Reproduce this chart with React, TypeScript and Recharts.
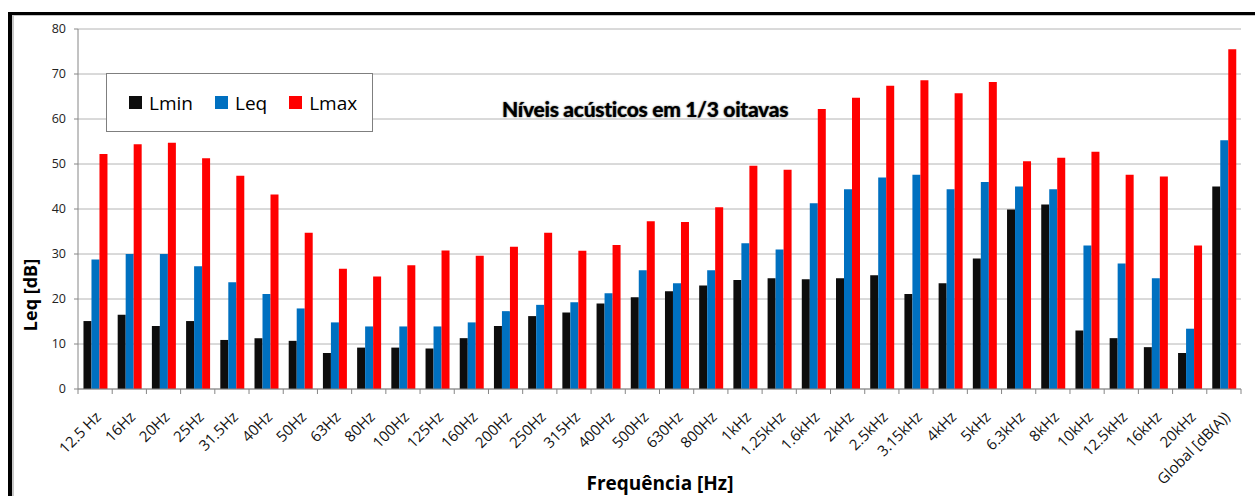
import { BarChart, Bar, XAxis, YAxis, CartesianGrid, Legend } from 'recharts';

const bands = [
  '12.5 Hz', '16Hz', '20Hz', '25Hz', '31.5Hz', '40Hz', '50Hz', '63Hz', '80Hz', '100Hz',
  '125Hz', '160Hz', '200Hz', '250Hz', '315Hz', '400Hz', '500Hz', '630Hz', '800Hz', '1kHz',
  '1.25kHz', '1.6kHz', '2kHz', '2.5kHz', '3.15kHz', '4kHz', '5kHz', '6.3kHz', '8kHz', '10kHz',
  '12.5kHz', '16kHz', '20kHz', 'Global [dB(A))',
];
const lmin = [
  15.1, 16.5, 14.0, 15.1, 10.9, 11.3, 10.7, 8.0, 9.2, 9.2, 9.0, 11.3, 14.0, 16.2, 17.0, 19.0, 20.4,
  21.7, 23.0, 24.2, 24.6, 24.4, 24.6, 25.3, 21.1, 23.5, 29.0, 39.9, 41.0, 13.0, 11.3, 9.3, 8.0, 45.0,
];
const leq = [
  28.8, 30.0, 30.0, 27.3, 23.7, 21.1, 17.9, 14.8, 13.9, 13.9, 13.9, 14.8, 17.3, 18.7, 19.3, 21.3, 26.4,
  23.5, 26.4, 32.4, 31.0, 41.3, 44.4, 47.0, 47.6, 44.4, 46.0, 45.0, 44.4, 31.9, 27.9, 24.6, 13.4, 55.3,
];
const lmax = [
  52.2, 54.4, 54.7, 51.3, 47.4, 43.2, 34.7, 26.7, 25.0, 27.5, 30.8, 29.6, 31.6, 34.7, 30.7, 32.0, 37.3,
  37.1, 40.4, 49.6, 48.7, 62.2, 64.7, 67.4, 68.6, 65.7, 68.2, 50.6, 51.4, 52.7, 47.6, 47.2, 31.9, 75.5,
];
const yTicks = [0, 10, 20, 30, 40, 50, 60, 70, 80];

const data = bands.map((band, i) => ({ band, Lmin: lmin[i], Leq: leq[i], Lmax: lmax[i] }));

const FONT = '"Open Sans", Arial, sans-serif';
const PLOT_W = 1163;
const STEP = PLOT_W / bands.length;

function BandTick(props: any) {
  const { x, y, payload, index } = props;
  return (
    <g>
      <line x1={x - STEP / 2} x2={x - STEP / 2} y1={y} y2={y + 5} stroke="#868686" />
      {index === bands.length - 1 && (
        <line x1={x + STEP / 2} x2={x + STEP / 2} y1={y} y2={y + 5} stroke="#868686" />
      )}
      <text
        transform={`translate(${x + 7},${y + 29}) rotate(-45)`}
        textAnchor="end"
        fontSize={15}
        fontFamily={FONT}
        fill="#111"
      >
        {payload.value}
      </text>
    </g>
  );
}

const legendItems = [
  { name: 'Lmin', color: '#0d0d0d' },
  { name: 'Leq', color: '#0070c0' },
  { name: 'Lmax', color: '#ff0000' },
];

function LegendBox() {
  return (
    <div
      style={{
        width: 267,
        height: 59,
        boxSizing: 'border-box',
        border: '1px solid #7f7f7f',
        background: '#fff',
        display: 'flex',
        alignItems: 'center',
        paddingLeft: 22,
        fontFamily: FONT,
        fontSize: 19,
        color: '#000',
      }}
    >
      {legendItems.map((it) => (
        <div key={it.name} style={{ display: 'flex', alignItems: 'center', marginRight: 22 }}>
          <span style={{ width: 13, height: 13, background: it.color, marginRight: 7 }} />
          <span>{it.name}</span>
        </div>
      ))}
    </div>
  );
}

export default function App() {
  return (
    <div style={{ position: 'absolute', left: 0, top: 0, width: 1255, height: 496, overflow: 'hidden', background: '#fff' }}>
      <div
        style={{
          position: 'absolute',
          left: 8,
          top: 12,
          width: 1247,
          height: 484,
          boxSizing: 'border-box',
          borderTop: '3px solid #000',
          borderLeft: '4px solid #000',
        }}
      >
        <div style={{ width: '100%', height: '100%', boxSizing: 'border-box', borderTop: '1px solid #c4c4c4', borderLeft: '2px solid #c8c8c8' }} />
      </div>

      <div style={{ position: 'absolute', left: 0, top: 0 }}>
        <BarChart
          width={1255}
          height={496}
          data={data}
          margin={{ top: 29, right: 14, bottom: 47, left: 38 }}
          barCategoryGap="16%"
          barGap={0}
        >
          <CartesianGrid vertical={false} stroke="#b4b4b4" />
          <XAxis
            dataKey="band"
            interval={0}
            height={60}
            tickLine={false}
            tickSize={0}
            tickMargin={0}
            axisLine={{ stroke: '#868686' }}
            tick={<BandTick />}
          />
          <YAxis
            width={40}
            domain={[0, 80]}
            ticks={yTicks}
            interval={0}
            tickSize={4}
            tickMargin={8}
            axisLine={{ stroke: '#868686' }}
            tickLine={{ stroke: '#868686' }}
            tick={{ fontSize: 12.5, fontFamily: FONT, fill: '#222' }}
          />
          <Legend
            layout="vertical"
            verticalAlign="middle"
            align="center"
            content={() => <LegendBox />}
            wrapperStyle={{ left: 106, top: 73, width: 267, height: 59 }}
          />
          <Bar dataKey="Lmin" fill="#0d0d0d" isAnimationActive={false} />
          <Bar dataKey="Leq" fill="#0070c0" isAnimationActive={false} />
          <Bar dataKey="Lmax" fill="#ff0000" isAnimationActive={false} />
        </BarChart>
      </div>

      <div
        style={{
          position: 'absolute',
          left: 502,
          top: 98,
          fontFamily: 'Lato, "Open Sans", sans-serif',
          fontStyle: 'normal',
          fontWeight: 900,
          fontSize: 21,
          lineHeight: '21px',
          letterSpacing: -0.3,
          whiteSpace: 'nowrap',
          color: '#000',
          textShadow: '0 0 2px #888, 0 0 1px #999',
        }}
      >
        Níveis acústicos em 1/3 oitavas
      </div>

      <div
        style={{
          position: 'absolute',
          left: -30,
          top: 283,
          width: 120,
          height: 24,
          lineHeight: '24px',
          textAlign: 'center',
          transform: 'rotate(-90deg)',
          fontFamily: FONT,
          fontWeight: 700,
          fontSize: 18,
          color: '#000',
          whiteSpace: 'nowrap',
        }}
      >
        Leq [dB]
      </div>

      <div
        style={{
          position: 'absolute',
          left: 560,
          top: 471,
          width: 200,
          height: 24,
          lineHeight: '24px',
          textAlign: 'center',
          fontFamily: FONT,
          fontWeight: 700,
          fontSize: 19,
          color: '#000',
          whiteSpace: 'nowrap',
        }}
      >
        Frequência [Hz]
      </div>
    </div>
  );
}
